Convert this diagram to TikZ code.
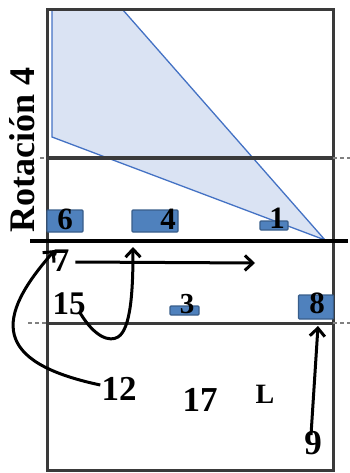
\documentclass[tikz,border=0pt]{standalone}
\usepackage{fontspec}
\setmainfont{Liberation Serif}
\usepackage{xcolor}
\usetikzlibrary{arrows.meta,positioning,calc}

\definecolor{zonefill}{HTML}{DAE3F3}
\definecolor{zoneline}{HTML}{4472C4}
\definecolor{boxfill}{HTML}{4F81BD}
\definecolor{boxline}{HTML}{385D8A}
\definecolor{court}{HTML}{3A3A3A}

\begin{document}
\begin{tikzpicture}[
    x=1pt, y=-1pt,
    pbox/.style={rectangle, draw=boxline, fill=boxfill, line width=1.2pt, rounded corners=1pt, inner sep=0pt},
    lbl/.style={font=\fontsize{35}{35}\selectfont\bfseries, inner sep=0pt},
    slbl/.style={font=\fontsize{31}{31}\selectfont\bfseries, inner sep=0pt},
    courtline/.style={draw=court, line width=3pt},
    ext/.style={draw=gray, line width=2pt, dash pattern=on 4pt off 3pt},
    arrow/.style={-{Straight Barb[length=8pt,width=15pt,line width=3pt]}, line width=3pt}
]
\useasboundingbox (0,0) rectangle (350,473);

% Zone
\fill[zonefill] (52,10) -- (123,10) -- (325,240) -- (52,137) -- cycle;
\draw[zoneline, line width=1.3pt] (52,137) -- (52,10) -- (123,10) -- (325,240) -- cycle;

% Court
\draw[courtline] (47,10) rectangle (333,470);
\draw[courtline] (47,158) -- (333,158);
\draw[courtline] (47,323) -- (333,323);
\draw[ext] (40,158) -- (47,158);
\draw[ext] (333,158) -- (350,158);
\draw[ext] (28,323) -- (47,323);
\draw[ext] (333,323) -- (350,323);
\draw[black, line width=4.5pt] (30,241) -- (348,241);

% Title
\node (title) [rotate=90, font=\fontsize{36}{36}\selectfont\bfseries, inner sep=0pt] at (22,150) {Rotación 4};

% Players
\node (r6) [pbox, minimum width=36pt, minimum height=22pt] at (65,221) {};
\node (r4) [pbox, minimum width=46pt, minimum height=22pt] at (155,221) {};
\node (r1) [pbox, minimum width=28pt, minimum height=9pt] at (274,225.5) {};
\node (r3) [pbox, minimum width=29pt, minimum height=9pt] at (184.5,310.5) {};
\node (r8) [pbox, minimum width=35pt, minimum height=24pt] at (316,307) {};

\node (l6) [slbl] at (65,219) {6};
\node (l4) [slbl] at (168,219) {4};
\node (l1) [slbl] at (277,218) {1};
\node (l3) [slbl, font=\fontsize{29}{29}\selectfont\bfseries] at (187,304) {3};
\node (l8) [slbl] at (317,303) {8};
\node (l7) [lbl, font=\fontsize{33}{33}\selectfont\bfseries] at (61,261) {7};
\node (l15) [lbl, font=\fontsize{33}{33}\selectfont\bfseries] at (69,304) {15};
\node (l12) [lbl] at (119,389) {12};
\node (l17) [lbl] at (200,400) {17};
\node (lL) [lbl, font=\fontsize{28}{28}\selectfont\bfseries] at (265,394) {L};
\node (l9) [lbl] at (313,443) {9};

% Arrows
\coordinate (e7) at (255,263);
\coordinate (t4) at (133,247);
\coordinate (t7) at (55,250);
\coordinate (t8) at (318,326);

\draw[arrow] ([xshift=6pt,yshift=-1pt]l7.east) -- (e7);
\draw[arrow] ([xshift=-6pt,yshift=3pt]l15.south east) .. controls (95,338) and (110,342) .. (118,337) .. controls (131,329) and (133,290) .. (t4);
\draw[arrow] ([xshift=-1pt,yshift=4pt]l12.west) .. controls (-8,362) and (-5,318) .. (t7);
\draw[arrow] ([xshift=-2pt,yshift=-4pt]l9.north) -- (t8);

\end{tikzpicture}
\end{document}
